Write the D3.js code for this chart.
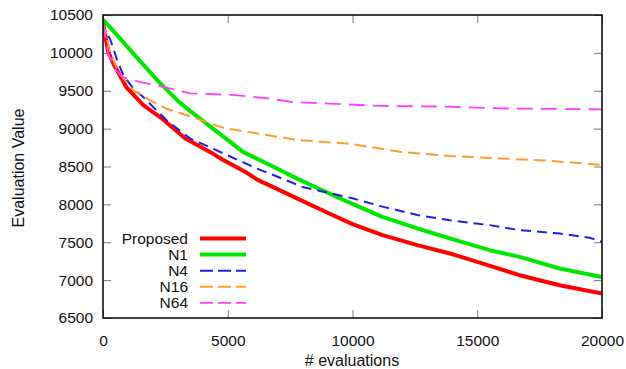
<!DOCTYPE html>
<html><head><meta charset="utf-8">
<script src="https://cdn.jsdelivr.net/npm/d3@7"></script>
<style>body{margin:0;background:#fff}svg{display:block}text{font-family:"Liberation Sans",Arial,sans-serif}</style>
</head><body><svg id="c" width="626" height="369"></svg>
<script>
const xTicks = [0,5000,10000,15000,20000];
const yTicks = [6500,7000,7500,8000,8500,9000,9500,10000,10500];
const seriesNames = ["Proposed","N1","N4","N16","N64"];

const proposedX = [0,80,200,413,950,1616,2300,3300,4400,4800,5800,6160,7500,7900,9000,10000,11200,12600,13900,15000,16700,18300,20000];
const proposedY = [10400,10250,10020,9860,9540,9310,9150,8870,8670,8590,8410,8330,8122,8060,7890,7740,7594,7462,7352,7240,7065,6933,6823];
const n1X = [0,600,1216,2285,3086,3487,3821,4289,4822,5624,6826,7762,8700,9900,11200,12600,13900,15500,16700,18300,20000];
const n1Y = [10440,10220,9990,9600,9340,9235,9150,9030,8895,8690,8497,8343,8200,8020,7836,7682,7550,7395,7307,7154,7040];
const n4X = [0,80,280,548,815,1216,1600,2550,3487,4822,6160,7495,8000,10000,11200,12600,13900,15500,16700,18300,19500,20000];
const n4Y = [10420,10300,10187,9923,9703,9527,9420,9110,8871,8673,8475,8298,8230,8080,7970,7860,7790,7726,7660,7616,7560,7505];
const n16X = [0,300,600,1200,1884,2553,3600,4822,6160,7800,9900,11900,13900,15900,17900,20000];
const n16Y = [10400,10000,9750,9510,9373,9262,9150,9010,8937,8850,8800,8695,8640,8607,8576,8520];
const n64X = [0,200,500,800,1200,1500,2500,3487,5200,6600,7495,8700,11100,13900,15900,20000];
const n64Y = [10400,10000,9780,9680,9641,9615,9545,9466,9445,9400,9355,9335,9300,9290,9267,9254];

const styles = [
  {color:"#ff0000", w:4, dash:null},
  {color:"#00e600", w:4, dash:null},
  {color:"#1f1fe0", w:2, dash:"10,6"},
  {color:"#ff9a2e", w:2, dash:"12,6"},
  {color:"#ff3cff", w:1.8, dash:"16,8"}
];
const seriesData = [[proposedX,proposedY],[n1X,n1Y],[n4X,n4Y],[n16X,n16Y],[n64X,n64Y]]
  .map(([xs,ys]) => xs.map((x,i)=>({x, y: ys[i]})));

const W=626,H=369, m={l:103,r:24,t:15,b:51};
const svg=d3.select("#c");
const x=d3.scaleLinear().domain([0,20000]).range([m.l,W-m.r]);
const y=d3.scaleLinear().domain([6500,10500]).range([H-m.b,m.t]);

const tl=8, fs=15.5;
const g=svg.append("g");
g.append("g").attr("transform",`translate(0,${H-m.b})`).call(d3.axisBottom(x).tickValues(xTicks).tickSize(-tl).tickPadding(17).tickFormat(d3.format("d")))
 .call(a=>{a.select(".domain").remove();a.selectAll("line").attr("stroke","#777");a.selectAll("text").attr("font-size",fs).attr("fill","#111");});
g.append("g").attr("transform",`translate(0,${m.t})`).call(d3.axisTop(x).tickValues(xTicks).tickSize(-tl).tickFormat(""))
 .call(a=>{a.select(".domain").remove();a.selectAll("line").attr("stroke","#777");});
g.append("g").attr("transform",`translate(${m.l},0)`).call(d3.axisLeft(y).tickValues(yTicks).tickSize(-tl).tickPadding(10).tickFormat(d3.format("d")))
 .call(a=>{a.select(".domain").remove();a.selectAll("line").attr("stroke","#777");a.selectAll("text").attr("font-size",fs).attr("fill","#111");});
g.append("g").attr("transform",`translate(${W-m.r},0)`).call(d3.axisRight(y).tickValues(yTicks).tickSize(-tl).tickFormat(""))
 .call(a=>{a.select(".domain").remove();a.selectAll("line").attr("stroke","#777");});

const line=d3.line().x(d=>x(d.x)).y(d=>y(d.y));
svg.append("clipPath").attr("id","pc").append("rect").attr("x",m.l).attr("y",m.t).attr("width",W-m.l-m.r).attr("height",H-m.t-m.b);
seriesData.forEach((d,i)=>{
  svg.append("path").datum(d).attr("d",line).attr("fill","none").attr("clip-path","url(#pc)")
   .attr("stroke",styles[i].color).attr("stroke-width",styles[i].w)
   .attr("stroke-dasharray",styles[i].dash).attr("stroke-linejoin","round");
});

svg.append("rect").attr("x",m.l).attr("y",m.t).attr("width",W-m.l-m.r).attr("height",H-m.t-m.b)
 .attr("fill","none").attr("stroke","#111").attr("stroke-width",1.6);

const lg=svg.append("g");
seriesNames.forEach((n,i)=>{
  const yy=238.5+i*16.1;
  lg.append("text").attr("x",188).attr("y",yy).attr("dy","0.35em").attr("text-anchor","end").attr("font-size",fs).attr("fill","#111").text(n);
  lg.append("line").attr("x1",200).attr("x2",246).attr("y1",yy).attr("y2",yy)
   .attr("stroke",styles[i].color).attr("stroke-width",styles[i].w).attr("stroke-dasharray",i>=2?"13,5":null);
});

svg.append("text").attr("x",352).attr("y",360).attr("dy","0.35em").attr("text-anchor","middle").attr("font-size",16).attr("fill","#111").text("# evaluations");
svg.append("text").attr("transform","translate(18,168) rotate(-90)").attr("dy","0.35em").attr("text-anchor","middle").attr("font-size",16).attr("fill","#111").text("Evaluation Value");
</script></body></html>
